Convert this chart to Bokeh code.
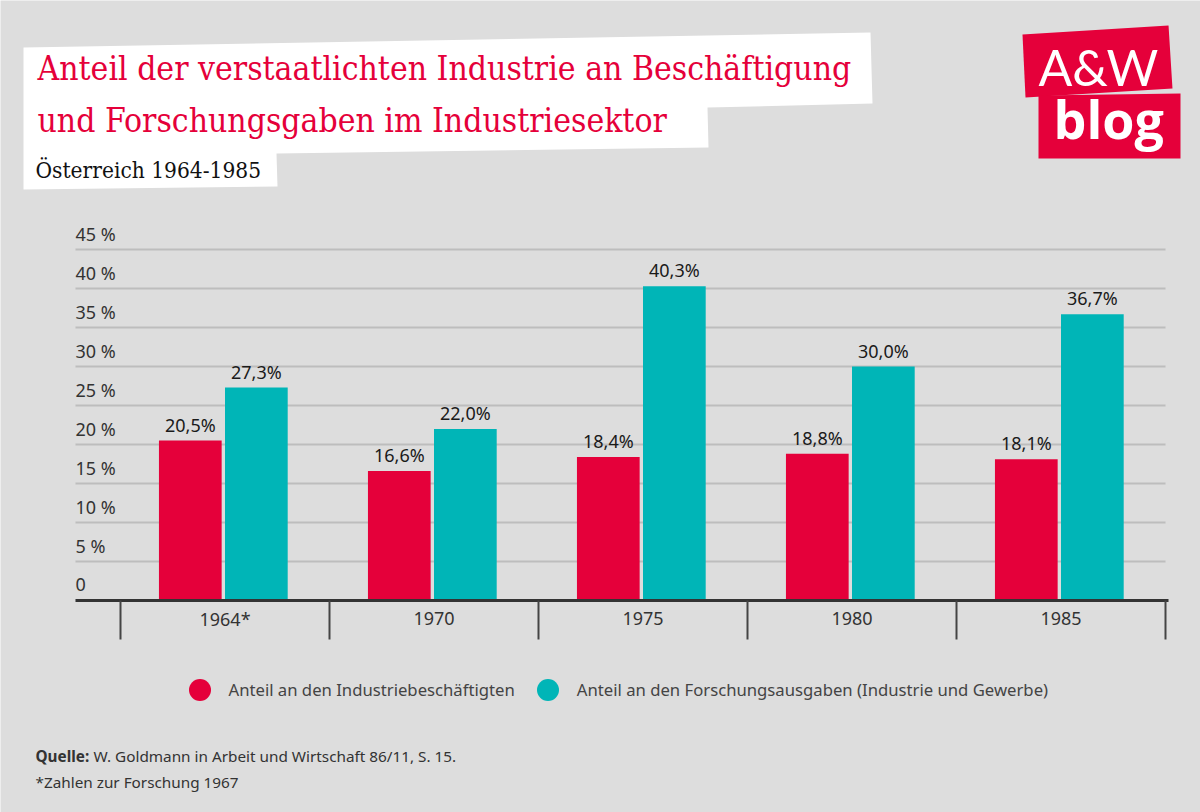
from bokeh.plotting import figure
from bokeh.models import Range1d, Label, PolyAnnotation, Legend, LegendItem, ColumnDataSource
from bokeh.transform import dodge
from bokeh.core.properties import value
from bokeh.embed import file_html
from bokeh.resources import INLINE

# ---------------- data ----------------
categories = ["1964*", "1970", "1975", "1980", "1985"]
beschaeftigung = [20.5, 16.6, 18.4, 18.8, 18.1]
forschung = [27.3, 22.0, 40.3, 30.0, 36.7]
y_ticks = [0, 5, 10, 15, 20, 25, 30, 35, 40, 45]
y_tick_labels = ["0", "5 %", "10 %", "15 %", "20 %", "25 %", "30 %", "35 %", "40 %", "45 %"]
series_names = ["Anteil an den Industriebeschäftigten",
                "Anteil an den Forschungsausgaben (Industrie und Gewerbe)"]
title_lines = ["Anteil der verstaatlichten Industrie an Beschäftigung",
               "und Forschungsgaben im Industriesektor"]
subtitle = "Österreich 1964-1985"
source_bold = "Quelle:"
source_text = "W. Goldmann in Arbeit und Wirtschaft 86/11, S. 15."
footnote = "*Zahlen zur Forschung 1967"

# ---------------- style ----------------
W, H = 1200, 812
BG = "#dddddd"
RED = "#e5003a"
TEAL = "#00b5b7"
GRID = "#bdbdbd"
DARK = "#333333"
UI_FONT = "Noto Sans"
TITLE_FONT = "DejaVu Serif Condensed"

# layout scale: pixels per unit
PX_Y = 7.8          # pixels per percent
BASE_Y = 600        # pixel row of 0 %
CAT_W = 209         # pixels per category
CAT0 = 224.5        # pixel column of first category centre

def fmt(v):
    return f"{v:.1f}".replace(".", ",") + "%"

idx = list(range(len(categories)))
src = ColumnDataSource(dict(
    x=idx, cat=categories,
    b=beschaeftigung, f=forschung,
    bl=[fmt(v) for v in beschaeftigung],
    fl=[fmt(v) for v in forschung],
    base=[0] * len(idx),
))

p = figure(width=W, height=H,
           x_range=Range1d((0 - CAT0) / CAT_W, (W - CAT0) / CAT_W),
           y_range=Range1d(-(H - BASE_Y) / PX_Y, BASE_Y / PX_Y),
           x_axis_type=None, y_axis_type=None,
           output_backend="svg", toolbar_location=None, min_border=0,
           background_fill_color=BG, border_fill_color=BG, outline_line_color=None)
p.grid.visible = False

x_left = (75 - CAT0) / CAT_W
x_right = len(categories) - 0.5

# grid lines
gy = y_ticks[1:]
p.segment(x0=[x_left] * len(gy), x1=[x_right] * len(gy), y0=gy, y1=gy,
          line_color=GRID, line_width=2)

# y tick labels (above grid lines)
p.text(x=[x_left] * len(y_ticks), y=y_ticks, text=y_tick_labels,
       text_font=value(UI_FONT), text_font_size="18px", text_color=DARK,
       text_align="left", text_baseline="alphabetic", y_offset=-16)

# bars
OFF_R, OFF_T, BW = -0.166, 0.150, 0.300
p.vbar(x=dodge("x", OFF_R), top="b", bottom="base", width=BW, source=src,
       fill_color=RED, line_color=None)
p.vbar(x=dodge("x", OFF_T), top="f", bottom="base", width=BW, source=src,
       fill_color=TEAL, line_color=None)

# value labels
for col, lab, off in (("b", "bl", OFF_R), ("f", "fl", OFF_T)):
    p.text(x=dodge("x", off), y=col, text=lab, source=src,
           text_font=value(UI_FONT), text_font_size="18px", text_color="#1a1a1a",
           text_align="center", text_baseline="alphabetic", y_offset=-16)

# baseline and category separators
p.segment(x0=[x_left], x1=[x_right + 3 / CAT_W], y0=[0], y1=[0],
          line_color=DARK, line_width=3)
bounds = [i - 0.5 for i in range(len(categories) + 1)]
p.segment(x0=bounds, x1=bounds, y0=[0] * len(bounds), y1=[-39 / PX_Y] * len(bounds),
          line_color="#444444", line_width=2)

# category labels
p.text(x="x", y="base", text="cat", source=src,
       text_font=value(UI_FONT), text_font_size="18px", text_color=DARK,
       text_align="center", text_baseline="alphabetic", y_offset=18)

# legend (marker renderers without visible positions)
nan = float("nan")
r1 = p.scatter(x=[nan], y=[nan], marker="circle", size=22, fill_color=RED, line_color=None)
r2 = p.scatter(x=[nan], y=[nan], marker="circle", size=22, fill_color=TEAL, line_color=None)
legend = Legend(items=[LegendItem(label=series_names[0], renderers=[r1]),
                       LegendItem(label=series_names[1], renderers=[r2])],
                orientation="horizontal", location=(171.5, H - 716.5),
                glyph_width=55, glyph_height=55, label_standoff=2, spacing=5,
                padding=0, margin=0, background_fill_alpha=0, border_line_color=None,
                label_text_font=UI_FONT, label_text_font_size="16.7px",
                label_text_color="#444444")
p.add_layout(legend)

# ---------------- header decorations ----------------
def sy(y, shift=0):
    return H - y + shift

title_box = PolyAnnotation(
    xs=[23, 870, 872, 707, 708, 276, 277, 23],
    ys=[sy(v) for v in [47, 32, 103, 107, 147, 153, 186, 189]],
    xs_units="screen", ys_units="screen",
    fill_color="white", fill_alpha=1.0, line_color=None, level="underlay")
p.add_layout(title_box)

p.add_layout(Label(x=37, y=sy(80, 12), x_units="screen", y_units="screen",
                   text=title_lines[0], text_font=TITLE_FONT, text_font_size="33.4px",
                   text_color=RED, text_baseline="alphabetic"))
p.add_layout(Label(x=37, y=sy(132, 12), x_units="screen", y_units="screen",
                   text=title_lines[1], text_font=TITLE_FONT, text_font_size="33.4px",
                   text_color=RED, text_baseline="alphabetic"))
p.add_layout(Label(x=35, y=sy(177, 8), x_units="screen", y_units="screen",
                   text=subtitle, text_font=TITLE_FONT, text_font_size="22.5px",
                   text_color="#111111", text_baseline="alphabetic"))

# logo
p.add_layout(PolyAnnotation(xs=[1022, 1168, 1172, 1025], ys=[sy(v) for v in [34, 25, 88, 97]],
                            xs_units="screen", ys_units="screen",
                            fill_color=RED, fill_alpha=1.0, line_color=None))
p.add_layout(PolyAnnotation(xs=[1038, 1180, 1180, 1038], ys=[sy(v) for v in [95, 93, 158, 158]],
                            xs_units="screen", ys_units="screen",
                            fill_color=RED, fill_alpha=1.0, line_color=None))
p.add_layout(Label(x=1038, y=sy(85, 19), x_units="screen", y_units="screen",
                   text="A&W", text_font="Lato", text_font_size="50px",
                   text_color="white", text_baseline="alphabetic"))
p.add_layout(Label(x=1053, y=sy(138, 20), x_units="screen", y_units="screen",
                   text="blog", text_font="Open Sans", text_font_size="52px",
                   text_font_style="bold", text_color="white", text_baseline="alphabetic"))

# source
p.add_layout(Label(x=35, y=sy(762, 7), x_units="screen", y_units="screen",
                   text=source_bold, text_font=UI_FONT, text_font_size="15.3px",
                   text_font_style="bold", text_color=DARK, text_baseline="alphabetic"))
p.add_layout(Label(x=93, y=sy(762, 7), x_units="screen", y_units="screen",
                   text=source_text, text_font=UI_FONT, text_font_size="15.3px",
                   text_color=DARK, text_baseline="alphabetic"))
p.add_layout(Label(x=35, y=sy(788, 7), x_units="screen", y_units="screen",
                   text=footnote, text_font=UI_FONT, text_font_size="15.3px",
                   text_color=DARK, text_baseline="alphabetic"))

open("out.html", "w").write(file_html(p, INLINE))
